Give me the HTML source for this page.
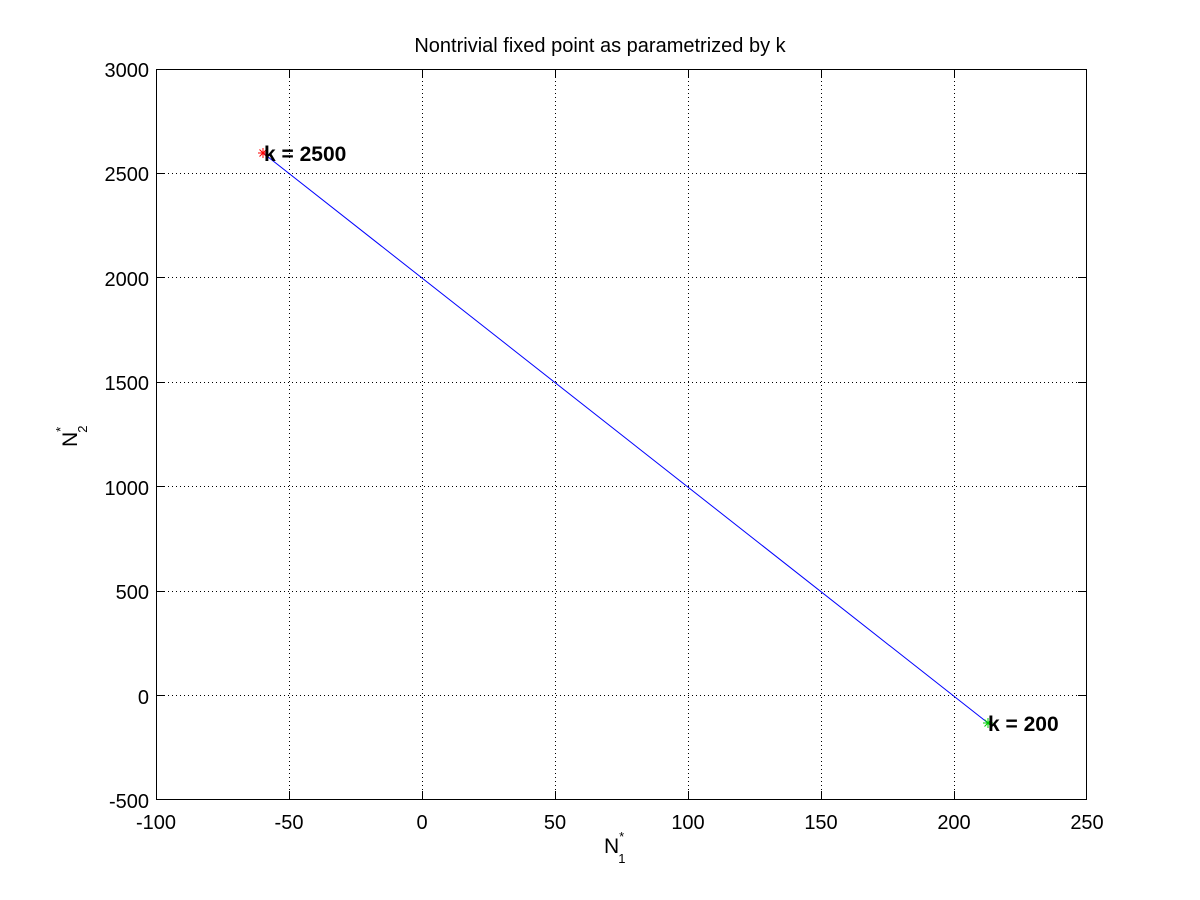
<!DOCTYPE html>
<html><head><meta charset="utf-8"><style>body{margin:0;background:#fff}svg{display:block}</style></head><body>
<svg width="1200" height="900" xmlns="http://www.w3.org/2000/svg" font-family="Liberation Sans, sans-serif">
<rect width="1200" height="900" fill="#fff"/>
<g stroke="#000" stroke-width="1" stroke-dasharray="1,3" shape-rendering="crispEdges">
<line x1="289.5" y1="69" x2="289.5" y2="800"/><line x1="422.5" y1="69" x2="422.5" y2="800"/><line x1="555.5" y1="69" x2="555.5" y2="800"/><line x1="688.5" y1="69" x2="688.5" y2="800"/><line x1="821.5" y1="69" x2="821.5" y2="800"/><line x1="954.5" y1="69" x2="954.5" y2="800"/>
<line x1="156" y1="173.5" x2="1087" y2="173.5"/><line x1="156" y1="277.5" x2="1087" y2="277.5"/><line x1="156" y1="382.5" x2="1087" y2="382.5"/><line x1="156" y1="486.5" x2="1087" y2="486.5"/><line x1="156" y1="591.5" x2="1087" y2="591.5"/><line x1="156" y1="695.5" x2="1087" y2="695.5"/>
</g>
<rect x="156.5" y="69.5" width="930" height="730" fill="none" stroke="#000" shape-rendering="crispEdges"/>
<g stroke="#000" shape-rendering="crispEdges">
<path d="M289.5 800v-9M422.5 800v-9M555.5 800v-9M688.5 800v-9M821.5 800v-9M954.5 800v-9M289.5 69v9M422.5 69v9M555.5 69v9M688.5 69v9M821.5 69v9M954.5 69v9"/>
<path d="M156 173.5h9M156 277.5h9M156 382.5h9M156 486.5h9M156 591.5h9M156 695.5h9M1087 173.5h-9M1087 277.5h-9M1087 382.5h-9M1087 486.5h-9M1087 591.5h-9M1087 695.5h-9"/>
</g>
<line x1="263" y1="153" x2="988" y2="723" stroke="#00f" stroke-width="1"/>
<g stroke="#f00"><path d="M258 153h10M263 148v10M259.5 149.5l7 7M266.5 149.5l-7 7"/></g>
<g stroke="#0c0"><path d="M983 723h10M988 718v10M984.5 719.5l7 7M991.5 719.5l-7 7"/></g>
<text x="264" y="161" font-size="21" font-weight="bold">k = 2500</text>
<text x="988" y="731" font-size="21" font-weight="bold">k = 200</text>
<g font-size="20" text-anchor="middle">
<text x="156" y="829">-100</text><text x="289" y="829">-50</text><text x="422" y="829">0</text><text x="555" y="829">50</text><text x="688" y="829">100</text><text x="821" y="829">150</text><text x="954" y="829">200</text><text x="1087" y="829">250</text>
</g>
<g font-size="20" text-anchor="end">
<text x="149" y="77">3000</text><text x="149" y="181">2500</text><text x="149" y="286">2000</text><text x="149" y="390">1500</text><text x="149" y="495">1000</text><text x="149" y="599">500</text><text x="149" y="704">0</text><text x="149" y="808">-500</text>
</g>
<text x="600" y="52" font-size="20" text-anchor="middle">Nontrivial fixed point as parametrized by k</text>
<text x="604" y="853" font-size="21">N<tspan font-size="13" dy="-12">*</tspan><tspan font-size="13" dx="-6" dy="22">1</tspan></text>
<g transform="translate(77,447) rotate(-90)"><text x="0" y="0" font-size="21">N<tspan font-size="13" dy="-12">*</tspan><tspan font-size="13" dx="-6" dy="22">2</tspan></text></g>
</svg>
</body></html>
